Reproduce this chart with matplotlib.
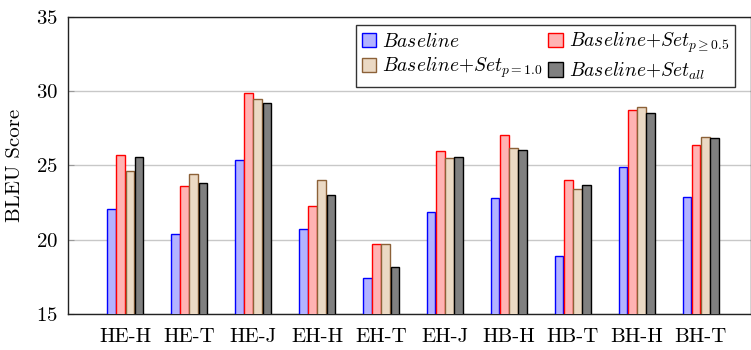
import matplotlib
matplotlib.use("Agg")
import matplotlib.pyplot as plt
import numpy as np

plt.rcParams['font.family'] = ['cmr10', 'DejaVu Serif']
plt.rcParams['mathtext.fontset'] = 'cm'
plt.rcParams['axes.formatter.use_mathtext'] = True

categories = ["HE-H", "HE-T", "HE-J", "EH-H", "EH-T", "EH-J", "HB-H", "HB-T", "BH-H", "BH-T"]
baseline = [22.1, 20.4, 25.4, 20.7, 17.45, 21.85, 22.8, 18.9, 24.9, 22.9]
set_p05 = [25.7, 23.6, 29.9, 22.3, 19.7, 26.0, 27.05, 24.0, 28.75, 26.4]
set_p10 = [24.6, 24.4, 29.5, 24.0, 19.75, 25.5, 26.2, 23.45, 28.9, 26.9]
set_all = [25.6, 23.8, 29.2, 23.0, 18.2, 25.55, 26.05, 23.7, 28.5, 26.85]
yticks = [15, 20, 25, 30, 35]

series = [
    (baseline, r'$Baseline$', (0.7, 0.7, 1.0), (0.0, 0.0, 1.0)),
    (set_p05, r'$Baseline{+}Set_{p\geq0.5}$', (1.0, 0.7, 0.7), (1.0, 0.0, 0.0)),
    (set_p10, r'$Baseline{+}Set_{p=1.0}$', (0.92, 0.85, 0.77), (0.55, 0.38, 0.22)),
    (set_all, r'$Baseline{+}Set_{all}$', (0.5, 0.5, 0.5), (0.0, 0.0, 0.0)),
]

fig = plt.figure(figsize=(7.51, 3.5), dpi=100)
ax = fig.add_axes([68 / 751, 1 - 314.3 / 350, 1 - 68 / 751 - 0.0005, (314.3 - 16.7) / 350])

x = np.arange(len(categories))
stride = 0.144
width = 0.135
handles = []
for i, (vals, label, fc, ec) in enumerate(series):
    offs = (i - 1.5) * stride
    b = ax.bar(x + offs, vals, width=width, color=fc, edgecolor=ec, linewidth=1.0,
               label=label, zorder=3)
    handles.append(b)

ax.set_ylim(15, 35)
ax.set_xlim(-0.895, 9.78)
ax.set_yticks(yticks)
ax.set_xticks(x)
ax.set_xticklabels(categories, fontsize=15)
ax.tick_params(axis='y', labelsize=15, direction='in', length=4, color='#999999', pad=7)
ax.tick_params(axis='x', length=0, pad=10)
ax.yaxis.grid(True, color='#c8c8c8', linewidth=1.0, zorder=0)
ax.set_axisbelow(True)
for s in ax.spines.values():
    s.set_color('#222222')
    s.set_linewidth(1.0)
ax.set_ylabel('BLEU Score', fontsize=15, labelpad=9)

order = [0, 2, 1, 3]
leg = ax.legend([handles[k] for k in order], [series[k][1] for k in order], ncol=2,
                loc='upper right',
                fontsize=14, frameon=True, fancybox=False, edgecolor='black',
                handlelength=0.75, handleheight=0.75, handletextpad=0.3,
                columnspacing=0.3, borderpad=0.3, labelspacing=0.25, borderaxespad=0.0)
leg.get_frame().set_linewidth(1.0)
leg.set_bbox_to_anchor((735 / 751, 1 - 25 / 350), transform=fig.transFigure)

fig.savefig('out.png', dpi=100)
